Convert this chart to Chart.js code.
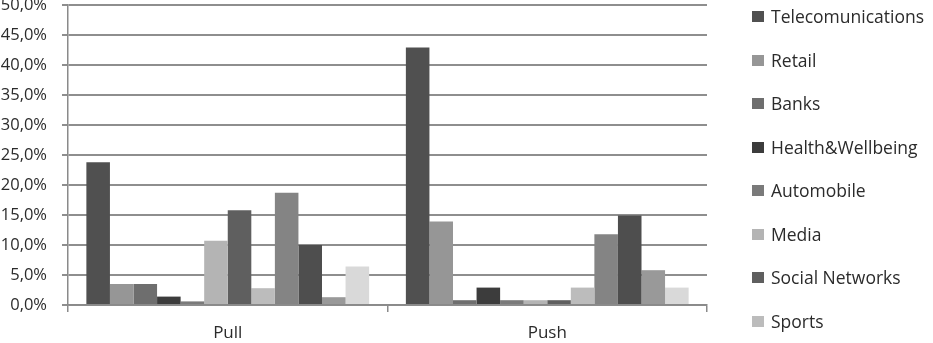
<!DOCTYPE html>
<html>
<head>
<meta charset="utf-8">
<script src="https://cdn.jsdelivr.net/npm/chart.js@4"></script>
<style>
  html, body { margin: 0; padding: 0; background: #fff; overflow: hidden; }
  #wrap { position: relative; width: 933px; height: 343px; overflow: hidden; }
  #chart { position: absolute; left: 0; top: -20px; }
  #legend { position: absolute; left: 752px; top: 4px; font-family: "Open Sans", sans-serif; font-size: 17.5px; color: #2b2b2b; }
  #legend .item { height: 43.5px; display: flex; align-items: flex-start; white-space: nowrap; line-height: 24px; }
  #legend .box { width: 12px; height: 11px; margin: 7px 7px 0 0; flex: none; }
</style>
</head>
<body>
<div id="wrap">
  <canvas id="chart" width="933" height="363"></canvas>
  <div id="legend"></div>
</div>
<script>
// data
const categorias = ['Pull', 'Push'];
const sectores = ['Telecomunications', 'Retail', 'Banks', 'Health&Wellbeing', 'Automobile', 'Media',
  'Social Networks', 'Sports', 'Series 9', 'Series 10', 'Series 11', 'Series 12'];
const valoresPull = [23.8, 3.5, 3.5, 1.4, 0.6, 10.7, 15.8, 2.8, 18.7, 10.0, 1.3, 6.4];
const valoresPush = [42.9, 13.9, 0.8, 2.9, 0.8, 0.8, 0.8, 2.9, 11.8, 14.9, 5.8, 2.9];
const grises = ['#505050', '#969696', '#6e6e6e', '#3c3c3c', '#7a7a7a', '#b4b4b4',
  '#5f5f5f', '#bcbcbc', '#848484', '#4e4e4e', '#999999', '#d9d9d9'];
const ticksY = [0, 5, 10, 15, 20, 25, 30, 35, 40, 45, 50];

const datasets = sectores.map((s, i) => ({
  label: s,
  data: [valoresPull[i], valoresPush[i]],
  backgroundColor: grises[i],
  borderWidth: 0,
  barPercentage: 1,
  categoryPercentage: 0.885
}));

new Chart(document.getElementById('chart'), {
  type: 'bar',
  data: { labels: categorias, datasets: datasets },
  options: {
    responsive: false,
    animation: false,
    layout: { padding: { left: 0, right: 226, top: 0, bottom: 0 } },
    plugins: { legend: { display: false }, tooltip: { enabled: false } },
    scales: {
      x: {
        grid: { drawOnChartArea: false, offset: true, tickLength: 7, color: '#8a8a8a', lineWidth: 1.5 },
        border: { color: '#8a8a8a', width: 1.5 },
        ticks: { color: '#2b2b2b', font: { family: 'Open Sans', size: 17 }, padding: 11 },
        afterFit: s => { s.height = 38; }
      },
      y: {
        min: 0, max: 50,
        afterBuildTicks: s => { s.ticks = ticksY.map(v => ({ value: v })); },
        grid: { color: '#8e8e8e', lineWidth: 2, tickLength: 6 },
        border: { color: '#8a8a8a', width: 1.5 },
        ticks: {
          color: '#2b2b2b', font: { family: 'Open Sans', size: 16.5 }, padding: 15,
          callback: v => v.toFixed(1).replace('.', ',') + '%'
        },
        afterFit: s => { s.width = 68; }
      }
    }
  }
});

// leyenda
const leg = document.getElementById('legend');
sectores.forEach((s, i) => {
  const it = document.createElement('div');
  it.className = 'item';
  it.innerHTML = '<span class="box" style="background:' + grises[i] + '"></span><span>' + s + '</span>';
  leg.appendChild(it);
});
</script>
</body>
</html>
